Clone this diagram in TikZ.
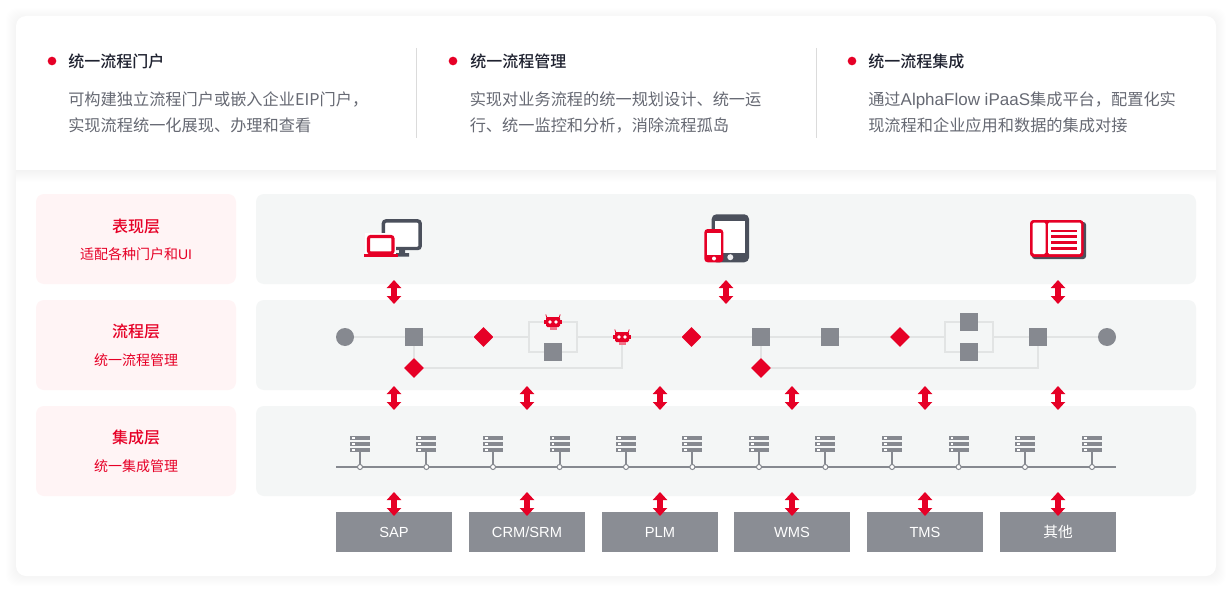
\documentclass[tikz,border=0pt]{standalone}
\usepackage{fontspec}
\usetikzlibrary{shapes.geometric,arrows.meta}
\setmainfont{Noto Sans CJK SC}
\newfontfamily\medf{Noto Sans CJK SC Medium}
\newfontfamily\latinf{Liberation Sans}
\definecolor{brandred}{HTML}{E60026}
\definecolor{nodegray}{HTML}{868990}
\definecolor{boxgray}{HTML}{8A8D94}
\definecolor{linegray}{HTML}{E2E4E4}
\definecolor{panelgray}{HTML}{F4F6F6}
\definecolor{panelpink}{HTML}{FFF4F5}
\definecolor{darkicon}{HTML}{4B505C}
\definecolor{bodytext}{HTML}{666973}
\definecolor{headtext}{HTML}{1F2230}
\pgfdeclarelayer{bg}
\pgfdeclarelayer{conn}
\pgfsetlayers{bg,conn,main}
\tikzset{
  x=0.75pt,y=-0.75pt,
  sqnode/.style={rectangle,fill=nodegray,minimum size=13.5pt,inner sep=0pt},
  dianode/.style={diamond,fill=brandred,minimum width=15pt,minimum height=15pt,inner sep=0pt},
  endnode/.style={circle,fill=nodegray,minimum size=13.5pt,inner sep=0pt},
  robotnode/.style={rectangle,minimum size=9pt,inner sep=0pt},
  flow/.style={draw=linegray,line width=1.9pt},
  biarrow/.style={{Triangle[width=10.5pt,length=6pt]}-{Triangle[width=10.5pt,length=6pt]},draw=brandred,line width=4pt},
  panelbox/.style={fill=panelgray,rounded corners=6pt},
  labelbox/.style={fill=panelpink,rounded corners=6pt},
  labeltitle/.style={text=brandred,font=\fontsize{12}{14}\medf},
  labelsub/.style={text=brandred,font=\fontsize{10.5}{13}\selectfont},
  headdot/.style={circle,fill=brandred,minimum size=6.5pt,inner sep=0pt},
  headtitle/.style={anchor=west,inner sep=0pt,text=headtext,font=\fontsize{12}{14}\medf},
  headbody/.style={anchor=base west,inner sep=0pt,text=bodytext,font=\fontsize{12.15}{15}\selectfont},
  sysbox/.style={rectangle,fill=boxgray,minimum width=87pt,minimum height=30pt,inner sep=0pt,text height=8pt,text depth=0pt,text=white,font=\fontsize{11}{13}\selectfont},
  robot/.pic={
    \fill[brandred] (-9,-1.7) rectangle (9,1.7);
    \fill[brandred,rounded corners=1pt] (-7,-5) rectangle (7,5);
    \draw[brandred,line width=0.6pt] (-6,-4) -- (-7.2,-7.5);
    \draw[brandred,line width=0.6pt] (6,-4) -- (7.2,-7.5);
    \fill[brandred!55] (-3.5,5) rectangle (3.5,8);
    \fill[white] (-3,0) circle (1.9);
    \fill[white] (3,0) circle (1.9);
  },
  serverpic/.pic={
    \foreach \yy in {-31,-25,-19}{
      \fill[nodegray] (-10,\yy) rectangle (10,\yy+4);
      \fill[white] (-8,\yy+1.2) rectangle (-5.5,\yy+2.8);
    }
  }
}
\begin{document}
\begin{tikzpicture}
\useasboundingbox (0,0) rectangle (1232,592);
\begin{pgfonlayer}{bg}
  \fill[white] (0,0) rectangle (1232,592);
  % soft card shadow
  \foreach \e in {1,...,10}{
    \fill[black,opacity=0.005,rounded corners=8pt] (16-\e,16-\e+2) rectangle (1216+\e,576+\e);
  }
  \fill[white,rounded corners=7.5pt] (16,16) rectangle (1216,576);
  % shadow under the top section
  \foreach \e in {1,2,3,4,5,6,7,8,9,10,11,12}{
    \fill[black,opacity=0.0025] (16,170) rectangle (1216,170+\e);
  }
  % layer panels
  \fill[labelbox] (36,194) rectangle (236,284);
  \fill[labelbox] (36,300) rectangle (236,390);
  \fill[labelbox] (36,406) rectangle (236,496);
  \fill[panelbox] (256,194) rectangle (1196,284);
  \fill[panelbox] (256,300) rectangle (1196,390);
  \fill[panelbox] (256,406) rectangle (1196,496);
  % dividers
  \draw[draw=black!14,line width=0.75pt] (416.7,48) -- (416.7,138);
  \draw[draw=black!14,line width=0.75pt] (816,48) -- (816,138);
\end{pgfonlayer}

% header
\node[headdot] (dot1) at (52,61) {};
\node[headdot] (dot2) at (453,61) {};
\node[headdot] (dot3) at (852,61) {};
\node[headtitle] (h1) at (68,61) {统一流程门户};
\node[headtitle] (h2) at (470,61) {统一流程管理};
\node[headtitle] (h3) at (868,61) {统一流程集成};
\node[headbody] (b1a) at (68,106) {可构建独立流程门户或嵌入企业EIP门户，};
\node[headbody] (b1b) at (68,132) {实现流程统一化展现、办理和查看};
\node[headbody] (b2a) at (469.5,106) {实现对业务流程的统一规划设计、统一运};
\node[headbody] (b2b) at (469.5,132) {行、统一监控和分析，消除流程孤岛};
\node[headbody] (b3a) at (868,106) {通过{\fontsize{12.75}{15}\latinf AlphaFlow iPaaS}集成平台，配置化实};
\node[headbody] (b3b) at (868,132) {现流程和企业应用和数据的集成对接};

% layer labels
\node[labeltitle] (l1a) at (136,226) {表现层};
\node[labelsub]   (l1b) at (136,254) {适配各种门户和{\latinf UI}};
\node[labeltitle] (l2a) at (136,331.5) {流程层};
\node[labelsub]   (l2b) at (136,360) {统一流程管理};
\node[labeltitle] (l3a) at (136,437.5) {集成层};
\node[labelsub]   (l3b) at (136,466) {统一集成管理};

% presentation icons: desktop + laptop
\draw[darkicon,line width=2.6pt,fill=white,rounded corners=2pt] (383.4,220.9) rectangle (420.2,248.5);
\fill[darkicon] (399,250) rectangle (405,254) (395,253) rectangle (409,256.7);
\draw[white,line width=1pt,fill=white] (366,234) rectangle (395,254);
\draw[brandred,line width=2.3pt,fill=white,rounded corners=1.5pt] (368.5,236.5) rectangle (393,253);
\fill[brandred] (364,253.5) rectangle (398,256.7);

% presentation icons: tablet + phone
\fill[darkicon,rounded corners=3.5pt] (711.7,214.3) rectangle (749,262.3);
\fill[white] (715.3,220.7) rectangle (745,253);
\fill[white!90!darkicon] (730.3,257.2) circle (3);
\fill[brandred,rounded corners=2.5pt] (704.3,229) rectangle (723.3,262.3);
\fill[white] (707.3,233.3) rectangle (721.3,255);
\fill[white] (714,258.5) circle (2);

% presentation icons: portal page
\fill[darkicon,rounded corners=2pt] (1032,222) rectangle (1086,259);
\fill[brandred,rounded corners=2.5pt] (1030,220) rectangle (1083.5,257);
\fill[white,rounded corners=1pt] (1032.7,222.5) rectangle (1045.5,254);
\fill[white,rounded corners=1pt] (1048,222.5) rectangle (1081,254);
\foreach \yy in {230.8,236.7,242.5,248.3}{
  \draw[brandred,line width=1.9pt] (1051.3,\yy) -- (1077.3,\yy);
}

% process nodes
\node[endnode] (start) at (345,337) {};
\node[sqnode]  (s1) at (414,337) {};
\node[dianode] (d1) at (483.5,337) {};
\coordinate    (j1l) at (529,337);
\coordinate    (j1r) at (577,337);
\node[robotnode] (r1) at (553,322) {};
\node[sqnode]  (s2) at (553,352) {};
\node[robotnode] (r2) at (622,337) {};
\node[dianode] (d2) at (691.5,337) {};
\node[sqnode]  (s3) at (761,337) {};
\node[sqnode]  (s4) at (830,337) {};
\node[dianode] (d3) at (900,337) {};
\coordinate    (j2l) at (945,337);
\coordinate    (j2r) at (993,337);
\node[sqnode]  (s5) at (969,322) {};
\node[sqnode]  (s6) at (969,352) {};
\node[sqnode]  (s7) at (1038,337) {};
\node[endnode] (stop) at (1107,337) {};
\node[dianode] (dl1) at (414,368) {};
\node[dianode] (dl2) at (761,368) {};
\pic at (553,322) {robot};
\pic at (622,337) {robot};

\begin{pgfonlayer}{conn}
  \draw[flow] (start) -- (s1);
  \draw[flow] (s1) -- (d1);
  \draw[flow] (d1) -- (j1l);
  \draw[flow] (s1) -- (dl1);
  \draw[flow] (dl1) -| (r2);
  \draw[flow] (r1) -| (j1l);
  \draw[flow] (r1) -| (j1r);
  \draw[flow] (s2) -| (j1l);
  \draw[flow] (s2) -| (j1r);
  \draw[flow] (j1r) -- (r2);
  \draw[flow] (r2) -- (d2);
  \draw[flow] (d2) -- (s3);
  \draw[flow] (s3) -- (s4);
  \draw[flow] (s4) -- (d3);
  \draw[flow] (d3) -- (j2l);
  \draw[flow] (s5) -| (j2l);
  \draw[flow] (s5) -| (j2r);
  \draw[flow] (s6) -| (j2l);
  \draw[flow] (s6) -| (j2r);
  \draw[flow] (j2r) -- (s7);
  \draw[flow] (s7) -- (stop);
  \draw[flow] (s3) -- (dl2);
  \draw[flow] (dl2) -| (s7);
\end{pgfonlayer}

% integration bus
\coordinate (busl) at (336,467);
\coordinate (busr) at (1116,467);
\draw[nodegray,line width=1.5pt] (busl) -- (busr);
\foreach \i/\xx in {1/360,2/426.4,3/493,4/559.6,5/626,6/692.4,7/759,8/825.4,9/892,10/958.6,11/1025,12/1092}{
  \coordinate (sv\i) at (\xx,452);
  \node[circle,draw=nodegray,fill=white,line width=0.75pt,minimum size=3.8pt,inner sep=0pt] (tap\i) at (\xx,467) {};
  \draw[nodegray,line width=1.4pt] (sv\i) -- (tap\i);
  \pic at (\xx,467) {serverpic};
}

% systems
\node[sysbox,font=\fontsize{11}{13}\latinf] (x1) at (394,532) {SAP};
\node[sysbox,font=\fontsize{11}{13}\latinf] (x2) at (527,532) {CRM/SRM};
\node[sysbox,font=\fontsize{11}{13}\latinf] (x3) at (660,532) {PLM};
\node[sysbox,font=\fontsize{11}{13}\latinf] (x4) at (792,532) {WMS};
\node[sysbox,font=\fontsize{11}{13}\latinf] (x5) at (925,532) {TMS};
\node[sysbox] (x6) at (1058,532) {其他};

% double arrows
\foreach \i/\xx in {1/394,2/726,3/1058}{
  \coordinate (au\i) at (\xx,280);
  \coordinate (ad\i) at (\xx,304);
  \draw[biarrow] (au\i) -- (ad\i);
}
\foreach \i/\xx in {1/394,2/527,3/660,4/792,5/925,6/1058}{
  \coordinate (bu\i) at (\xx,386);
  \coordinate (bd\i) at (\xx,410);
  \draw[biarrow] (bu\i) -- (bd\i);
  \coordinate (cu\i) at (\xx,492);
  \coordinate (cd\i) at (\xx,516);
  \draw[biarrow] (cu\i) -- (cd\i);
}
\end{tikzpicture}
\end{document}
